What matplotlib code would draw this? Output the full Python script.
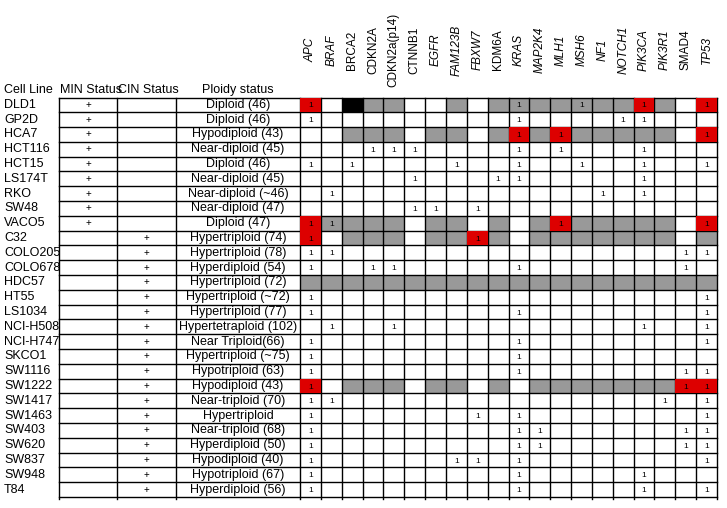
import matplotlib
matplotlib.use("Agg")
import matplotlib.pyplot as plt
from matplotlib.patches import Rectangle

plt.rcParams["font.family"] = ["Liberation Sans", "DejaVu Sans"]

genes = ["APC", "BRAF", "BRCA2", "CDKN2A", "CDKN2a(p14)", "CTNNB1", "EGFR",
         "FAM123B", "FBXW7", "KDM6A", "KRAS", "MAP2K4", "MLH1", "MSH6", "NF1",
         "NOTCH1", "PIK3CA", "PIK3R1", "SMAD4", "TP53"]
gene_italic = [1, 1, 0, 0, 0, 0, 1, 1, 1, 0, 1, 1, 1, 1, 1, 1, 1, 1, 0, 1]

cell_lines = ["DLD1", "GP2D", "HCA7", "HCT116", "HCT15", "LS174T", "RKO", "SW48",
              "VACO5", "C32", "COLO205", "COLO678", "HDC57", "HT55", "LS1034",
              "NCI-H508", "NCI-H747", "SKCO1", "SW1116", "SW1222", "SW1417",
              "SW1463", "SW403", "SW620", "SW837", "SW948", "T84"]
min_status = ["+"] * 9 + [""] * 18
cin_status = [""] * 9 + ["+"] * 18
ploidy = ["Diploid (46)", "Diploid (46)", "Hypodiploid (43)", "Near-diploid (45)",
          "Diploid (46)", "Near-diploid (45)", "Near-diploid (~46)",
          "Near-diploid (47)", "Diploid (47)", "Hypertriploid (74)",
          "Hypertriploid (78)", "Hyperdiploid (54)", "Hypertriploid (72)",
          "Hypertriploid (~72)", "Hypertriploid (77)", "Hypertetraploid (102)",
          "Near Triploid(66)", "Hypertriploid (~75)", "Hypotriploid (63)",
          "Hypodiploid (43)", "Near-triploid (70)", "Hypertriploid",
          "Near-triploid (68)", "Hyperdiploid (50)", "Hypodiploid (40)",
          "Hypotriploid (67)", "Hyperdiploid (56)"]

# '.' empty, '1' mutated, 'g' grey, 'G' grey + mutated, 'r' red + mutated, 'k' black
calls = [
    "r.kgg..g.gGggGggrg.r",
    "1.........1....11...",
    "..ggg.gg.grgrggggg.r",
    "...111....1.1...1...",
    "1.1....1..1..1..1..1",
    ".....1...11.....1...",
    ".1............1.1...",
    ".....11.1...........",
    "rGggg.gg.g.grggggg.r",
    "r.ggg.ggrg.ggggggg.g",
    "11................11",
    "1..11.....1.......1.",
    "gggggggggggggggggggg",
    "1..................1",
    "1.........1........1",
    ".1..1...........1..1",
    "1.........1........1",
    "1.........1.........",
    "1.........1.......11",
    "r.ggg.gg.g.gggggggrr",
    "11...............1.1",
    "1.......1.1........1",
    "1.........11......11",
    "1.........11......11",
    "1......11.1........1",
    "1.........1.....1...",
    "1.........1.....1..1",
]

RED = "#dd0000"; GREY = "#999999"; BLACK = "#000000"
fill = {"g": GREY, "G": GREY, "r": RED, "k": BLACK}

fig = plt.figure(figsize=(7.27, 5.08), dpi=100)
ax = fig.add_axes([0, 0, 1, 1])
ax.set_xlim(0, 727); ax.set_ylim(508, 0); ax.axis("off")

top, bottom = 97.5, 497.0
rh = (bottom - top) / len(cell_lines)
gx0, gx1 = 300.0, 717.0
cw = (gx1 - gx0) / len(genes)
col_min, col_cin, col_ploidy = (59, 117), (117, 176), (176, 300)

# headers
hy = 90
ax.text(4, hy, "Cell Line", fontsize=9, va="center", ha="left")
ax.text(60, hy, "MIN Status", fontsize=9, va="center", ha="left")
ax.text(118, hy, "CIN Status", fontsize=9, va="center", ha="left")
ax.text(sum(col_ploidy) / 2, hy, "Ploidy status", fontsize=9, va="center", ha="center")
for j, g in enumerate(genes):
    ax.text(gx0 + (j + 0.5) * cw, 50, g, rotation=90, fontsize=8.5,
            ha="center", va="center", style="italic" if gene_italic[j] else "normal")

# cells
for i, row in enumerate(calls):
    y = top + i * rh
    for j, c in enumerate(row):
        x = gx0 + j * cw
        if c in fill:
            ax.add_patch(Rectangle((x, y), cw, rh, facecolor=fill[c], edgecolor="none",
                                   zorder=3 if c == "r" else 1))
        if c in "1Gr":
            ax.text(x + cw / 2, y + rh / 2 + 1, "1", fontsize=6, ha="center",
                    va="center", zorder=4)

# grid lines
for i in range(len(cell_lines) + 1):
    ax.plot([59, gx1], [top + i * rh] * 2, color="black", lw=1.0, zorder=2)
vlines = [59, 117, 176] + [gx0 + j * cw for j in range(len(genes) + 1)]
for x in vlines:
    ax.plot([x, x], [top, bottom + 1.5], color="black", lw=1.0, zorder=2)

# left columns
for i, name in enumerate(cell_lines):
    yc = top + (i + 0.5) * rh
    ax.text(4, yc, name, fontsize=9, ha="left", va="center")
    ax.text(sum(col_min) / 2, yc, min_status[i], fontsize=7, ha="center", va="center")
    ax.text(sum(col_cin) / 2, yc, cin_status[i], fontsize=7, ha="center", va="center")
    ax.text(sum(col_ploidy) / 2, yc, ploidy[i], fontsize=9, ha="center", va="center")

fig.savefig("out.png", dpi=100)
